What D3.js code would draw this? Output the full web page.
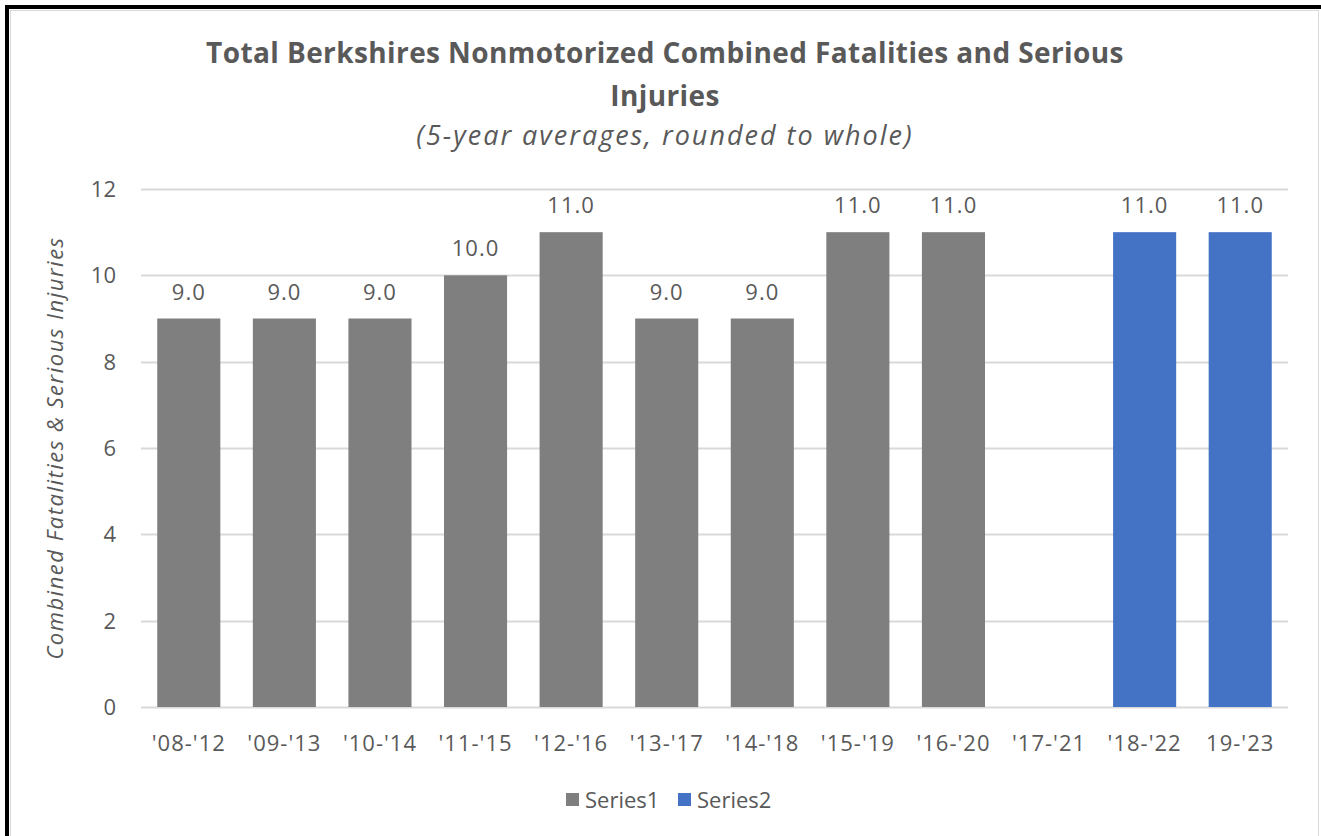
<!DOCTYPE html>
<html>
<head>
<meta charset="utf-8">
<script src="https://cdn.jsdelivr.net/npm/d3@7"></script>
<style>
  body { margin: 0; background: #fff; }
  text { font-family: "Open Sans", "Noto Sans", sans-serif; fill: #595959; }
</style>
</head>
<body>
<svg id="chart" width="1321" height="836"></svg>
<script>
const categories = ["'08-'12", "'09-'13", "'10-'14", "'11-'15", "'12-'16", "'13-'17", "'14-'18", "'15-'19", "'16-'20", "'17-'21", "'18-'22", "19-'23"];
const series1 = [9, 9, 9, 10, 11, 9, 9, 11, 11, null, null, null];
const series2 = [null, null, null, null, null, null, null, null, null, null, 11, 11];
const seriesNames = ["Series1", "Series2"];
const yTicks = [0, 2, 4, 6, 8, 10, 12];

const svg = d3.select("#chart");
const W = 1321, H = 836;
const margin = { top: 189, right: 33, bottom: 129, left: 141 };

// frame
svg.append("rect").attr("x", 10.5).attr("y", 10.5).attr("width", 1308).attr("height", 840)
  .attr("fill", "#fff").attr("stroke", "#d9d9d9");
svg.append("rect").attr("x", 5).attr("y", 5).attr("width", W).attr("height", 4).attr("fill", "#000");
svg.append("rect").attr("x", 5).attr("y", 5).attr("width", 4).attr("height", H).attr("fill", "#000");

const x = d3.scaleBand().domain(categories)
  .range([margin.left, W - margin.right]).paddingInner(0.34).paddingOuter(0.17);
const y = d3.scaleLinear().domain([0, 12]).range([H - margin.bottom, margin.top]);

// gridlines
svg.append("g").selectAll("line").data(yTicks).join("line")
  .attr("x1", margin.left).attr("x2", W - margin.right)
  .attr("y1", d => Math.round(y(d)) + 0.5).attr("y2", d => Math.round(y(d)) + 0.5)
  .attr("stroke", "#d9d9d9").attr("stroke-width", 2);

// y tick labels
svg.append("g").selectAll("text").data(yTicks).join("text")
  .attr("x", 116).attr("y", d => y(d)).attr("dy", "0.36em")
  .attr("text-anchor", "end").style("font-size", "22px").text(d => d);

// x labels
svg.append("g").selectAll("text").data(categories).join("text")
  .attr("x", d => x(d) + x.bandwidth() / 2).attr("y", 743).attr("dy", "0.36em")
  .attr("text-anchor", "middle").style("font-size", "22px").style("letter-spacing", "1px")
  .text(d => d);

const colors = ["#7f7f7f", "#4472c4"];
[series1, series2].forEach((s, si) => {
  const pts = categories.map((c, i) => ({ c, v: s[i] })).filter(d => d.v != null);
  svg.append("g").selectAll("rect").data(pts).join("rect")
    .attr("x", d => x(d.c)).attr("width", x.bandwidth())
    .attr("y", d => y(d.v)).attr("height", d => y(0) - y(d.v))
    .attr("fill", colors[si]);
  svg.append("g").selectAll("text").data(pts).join("text")
    .attr("x", d => x(d.c) + x.bandwidth() / 2).attr("y", d => y(d.v) - 19)
    .attr("text-anchor", "middle").style("font-size", "22px").style("letter-spacing", "1px")
    .text(d => d3.format(".1f")(d.v));
});

// titles
svg.append("text").attr("x", 665).attr("y", 63).attr("text-anchor", "middle")
  .style("font-size", "28px").style("font-weight", "bold").style("letter-spacing", "0.4px")
  .text("Total Berkshires Nonmotorized Combined Fatalities and Serious");
svg.append("text").attr("x", 665).attr("y", 106).attr("text-anchor", "middle")
  .style("font-size", "28px").style("font-weight", "bold").style("letter-spacing", "0.4px")
  .text("Injuries");
svg.append("text").attr("x", 665).attr("y", 145).attr("text-anchor", "middle")
  .style("font-size", "27px").style("font-style", "italic").style("letter-spacing", "2px")
  .text("(5-year averages, rounded to whole)");

// y axis title
svg.append("text").attr("transform", "translate(63,448) rotate(-90)")
  .attr("text-anchor", "middle").style("font-size", "22px").style("font-style", "italic")
  .style("letter-spacing", "1.5px")
  .text("Combined Fatalities & Serious Injuries");

// legend
const lg = svg.append("g").selectAll("g").data(seriesNames).join("g")
  .attr("transform", (d, i) => `translate(${566 + i * 112},800)`);
lg.append("rect").attr("x", 0).attr("y", -7).attr("width", 13).attr("height", 13)
  .attr("fill", (d, i) => colors[i]);
lg.append("text").attr("x", 19).attr("dy", "0.36em").style("font-size", "22px").text(d => d);
</script>
</body>
</html>
